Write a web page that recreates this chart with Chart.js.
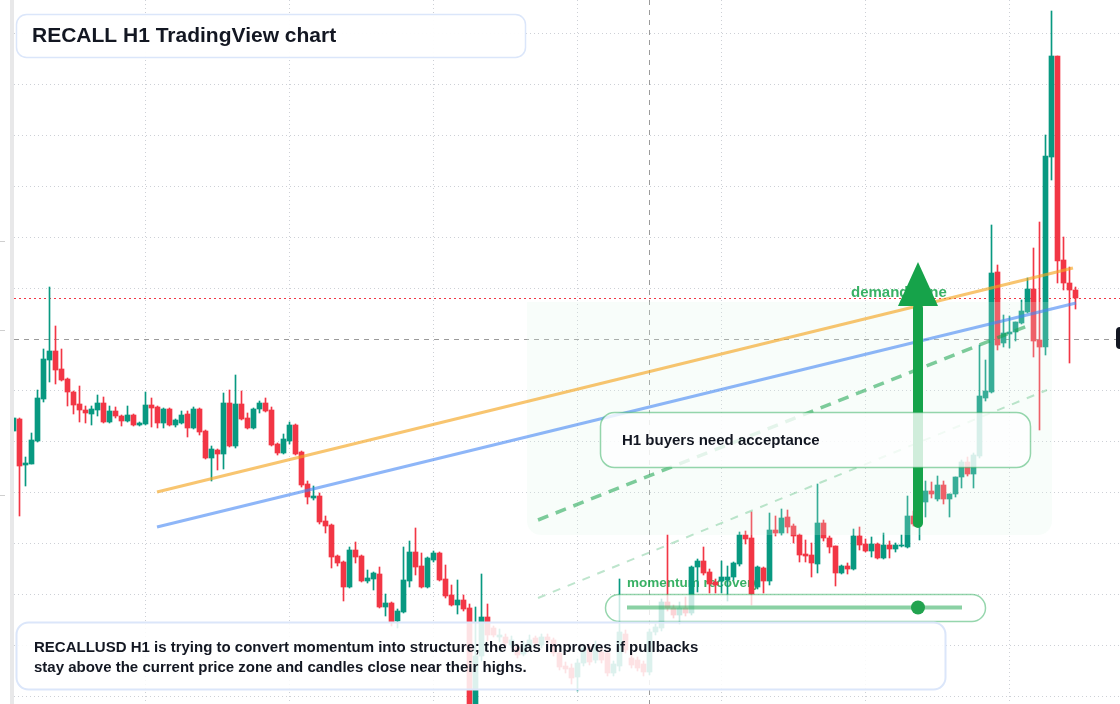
<!DOCTYPE html>
<html><head><meta charset="utf-8">
<script src="https://cdn.jsdelivr.net/npm/chart.js@4.4.1/dist/chart.umd.min.js"></script>
<style>html,body{margin:0;padding:0;background:#fff;overflow:hidden}canvas{display:block}</style>
</head><body>
<canvas id="c" width="1120" height="704"></canvas>
<script>
// ---- DATA (H1 candles, index = bar number) ----
const open = [
0.565,0.577,0.531,0.532,0.555,0.597,0.636,0.645,0.627,0.617,
0.604,0.592,0.586,0.582,0.586,0.593,0.574,0.585,0.580,0.575,
0.581,0.571,0.572,0.591,0.589,0.573,0.587,0.571,0.573,0.582,
0.568,0.587,0.565,0.538,0.546,0.542,0.593,0.550,0.592,0.578,
0.568,0.587,0.593,0.586,0.552,0.543,0.555,0.571,0.544,0.512,
0.498,0.500,0.475,0.471,0.440,0.434,0.409,0.446,0.440,0.415,
0.417,0.422,0.389,0.393,0.375,0.384,0.415,0.444,0.430,0.409,
0.436,0.443,0.417,0.401,0.391,0.396,0.388,0.272,0.340,0.379,
0.368,0.359,0.359,0.351,0.349,0.342,0.349,0.358,0.351,0.359,
0.356,0.343,0.330,0.328,0.319,0.333,0.348,0.336,0.344,0.343,
0.323,0.330,0.362,0.338,0.336,0.332,0.324,0.364,0.368,0.394,
0.388,0.381,0.388,0.383,0.429,0.435,0.424,0.414,0.415,0.416,
0.419,0.432,0.461,0.458,0.409,0.428,0.415,0.466,0.463,0.479,
0.470,0.461,0.442,0.441,0.432,0.473,0.458,0.450,0.423,0.430,
0.427,0.460,0.452,0.445,0.452,0.438,0.451,0.447,0.450,0.449,
0.480,0.473,0.494,0.505,0.497,0.511,0.497,0.502,0.519,0.534,
0.522,0.540,0.598,0.604,0.724,0.653,0.662,0.664,0.673,0.684,
0.707,0.656,0.649,0.839,0.940,0.736,0.713,0.706];
const high = [
0.578,0.578,0.539,0.563,0.606,0.647,0.709,0.670,0.647,0.618,
0.605,0.610,0.590,0.590,0.601,0.599,0.590,0.589,0.581,0.590,
0.582,0.574,0.604,0.598,0.590,0.588,0.588,0.577,0.585,0.585,
0.589,0.588,0.566,0.550,0.547,0.603,0.606,0.621,0.605,0.583,
0.588,0.595,0.598,0.589,0.553,0.562,0.574,0.572,0.545,0.515,
0.510,0.503,0.480,0.472,0.441,0.435,0.449,0.454,0.441,0.426,
0.424,0.429,0.402,0.394,0.387,0.449,0.455,0.468,0.443,0.439,
0.445,0.444,0.431,0.411,0.416,0.401,0.392,0.389,0.422,0.392,
0.370,0.367,0.362,0.360,0.352,0.355,0.361,0.360,0.362,0.362,
0.358,0.346,0.334,0.332,0.337,0.351,0.352,0.355,0.348,0.346,
0.335,0.417,0.366,0.342,0.339,0.335,0.367,0.372,0.397,0.461,
0.391,0.394,0.399,0.430,0.437,0.449,0.427,0.417,0.435,0.430,
0.434,0.464,0.465,0.484,0.430,0.429,0.483,0.480,0.487,0.486,
0.472,0.462,0.456,0.453,0.512,0.476,0.460,0.450,0.431,0.433,
0.467,0.469,0.457,0.459,0.453,0.463,0.455,0.453,0.461,0.500,
0.485,0.500,0.515,0.514,0.520,0.515,0.502,0.519,0.536,0.539,
0.543,0.651,0.636,0.771,0.731,0.681,0.680,0.674,0.696,0.718,
0.748,0.774,0.861,0.985,0.940,0.759,0.729,0.709];
const low = [
0.565,0.480,0.510,0.532,0.554,0.594,0.614,0.612,0.615,0.590,
0.582,0.574,0.573,0.571,0.580,0.573,0.573,0.578,0.570,0.574,
0.570,0.570,0.571,0.569,0.568,0.568,0.570,0.569,0.572,0.559,
0.567,0.561,0.537,0.515,0.526,0.527,0.549,0.548,0.576,0.567,
0.567,0.583,0.584,0.550,0.541,0.542,0.552,0.541,0.509,0.492,
0.496,0.472,0.463,0.428,0.430,0.395,0.408,0.433,0.414,0.413,
0.406,0.388,0.380,0.370,0.368,0.383,0.409,0.421,0.408,0.408,
0.434,0.415,0.398,0.390,0.382,0.385,0.260,0.265,0.335,0.355,
0.359,0.354,0.350,0.348,0.338,0.340,0.346,0.350,0.348,0.352,
0.340,0.326,0.323,0.312,0.305,0.330,0.331,0.333,0.333,0.320,
0.320,0.325,0.343,0.328,0.325,0.320,0.321,0.361,0.365,0.385,
0.378,0.372,0.380,0.381,0.404,0.421,0.403,0.403,0.403,0.395,
0.416,0.430,0.452,0.391,0.407,0.403,0.411,0.460,0.461,0.463,
0.453,0.434,0.434,0.419,0.423,0.455,0.443,0.410,0.422,0.422,
0.426,0.446,0.444,0.439,0.437,0.437,0.438,0.444,0.449,0.448,
0.470,0.456,0.479,0.498,0.495,0.492,0.479,0.499,0.508,0.520,
0.508,0.538,0.595,0.603,0.646,0.649,0.648,0.655,0.672,0.683,
0.639,0.566,0.641,0.816,0.713,0.706,0.633,0.687];
const close = [
0.578,0.530,0.533,0.556,0.598,0.637,0.645,0.626,0.616,0.604,
0.591,0.586,0.583,0.587,0.593,0.574,0.585,0.580,0.575,0.581,
0.571,0.573,0.591,0.588,0.573,0.587,0.571,0.576,0.581,0.568,
0.587,0.564,0.538,0.547,0.542,0.593,0.550,0.592,0.577,0.568,
0.587,0.593,0.585,0.551,0.543,0.557,0.571,0.542,0.511,0.499,
0.500,0.474,0.470,0.439,0.433,0.409,0.446,0.439,0.415,0.418,
0.423,0.389,0.393,0.374,0.385,0.416,0.444,0.429,0.409,0.438,
0.443,0.416,0.400,0.391,0.396,0.387,0.270,0.340,0.379,0.361,
0.361,0.361,0.353,0.356,0.341,0.351,0.356,0.353,0.359,0.356,
0.343,0.329,0.327,0.318,0.333,0.348,0.334,0.351,0.336,0.323,
0.332,0.364,0.346,0.331,0.328,0.324,0.364,0.369,0.394,0.388,
0.381,0.388,0.383,0.429,0.435,0.423,0.412,0.411,0.419,0.419,
0.433,0.461,0.457,0.402,0.429,0.415,0.466,0.463,0.478,0.469,
0.460,0.441,0.440,0.433,0.473,0.458,0.449,0.423,0.430,0.427,
0.460,0.451,0.445,0.452,0.438,0.451,0.447,0.451,0.451,0.480,
0.472,0.490,0.505,0.502,0.511,0.497,0.502,0.519,0.534,0.522,
0.541,0.600,0.605,0.723,0.651,0.663,0.664,0.674,0.685,0.707,
0.655,0.649,0.840,0.940,0.735,0.713,0.706,0.698];

const priceTicks = [0.300,0.351,0.402,0.453,0.504,0.555,0.606,0.657,0.708,0.759,0.810,0.861,0.912,0.963];
const timeTicks = [22,46,70,94,118,142,166];
const crosshairBar = 106;
const crosshairPrice = 0.657;

// drawings anchored in (bar, price)
const orangeTrendBars = [23.92, 176.58], orangeTrendPrices = [0.504, 0.728];
const blueTrendBars = [23.92, 177.08],   blueTrendPrices = [0.469, 0.693];
const greenTrendBars = [87.42, 169.42],  greenTrendPrices = [0.476, 0.671];
const lightTrendBars = [87.42, 172.25],  lightTrendPrices = [0.398, 0.606];
const zoneBars = [85.58, 173.08], zonePrices = [0.461, 0.694];
const arrowBar = 150.75, arrowPrices = [0.468, 0.690, 0.734];

const title = 'RECALL H1 TradingView chart';
const zoneLabel = 'demand zone';
const momentumLabel = 'momentum recovery';
const calloutText = 'H1 buyers need acceptance';
const noteLines = ['RECALLUSD H1 is trying to convert momentum into structure; the bias improves if pullbacks',
                   'stay above the current price zone and candles close near their highs.'];

const GREEN = '#089981', RED = '#f23645';
const FONT = '"Liberation Sans", Arial, sans-serif';

const bars = open.map((_, i) => i);
const isUp = bars.map(i => close[i] >= open[i]);

function seg(ctx, x1, y1, x2, y2) { ctx.beginPath(); ctx.moveTo(x1, y1); ctx.lineTo(x2, y2); ctx.stroke(); }
function rrect(ctx, x, y, w, h, r, fill, stroke, lw) {
  ctx.beginPath(); ctx.roundRect(x, y, w, h, r);
  if (fill) { ctx.fillStyle = fill; ctx.fill(); }
  if (stroke) { ctx.setLineDash([]); ctx.lineWidth = lw || 1.5; ctx.strokeStyle = stroke; ctx.stroke(); }
}

const overlay = {
  id: 'overlay',
  beforeDatasetsDraw(chart) {
    const { ctx, chartArea: a, scales: { x, y } } = chart;
    ctx.save();
    ctx.lineWidth = 1;
    ctx.strokeStyle = '#cdd0d6';
    ctx.setLineDash([1, 3]);
    priceTicks.forEach(v => { if (Math.abs(v - crosshairPrice) > 1e-6) { const py = Math.round(y.getPixelForValue(v)) + 0.5; seg(ctx, a.left, py, a.right, py); } });
    timeTicks.forEach(b => { const px = Math.floor(x.getPixelForValue(b)) + 0.5; seg(ctx, px, a.top, px, a.bottom); });
    // crosshair
    ctx.strokeStyle = '#9b9b9b';
    ctx.setLineDash([5, 5]);
    const cy = Math.round(y.getPixelForValue(crosshairPrice)) + 0.5;
    seg(ctx, a.left, cy, a.right, cy);
    const cx = Math.floor(x.getPixelForValue(crosshairBar)) + 0.5;
    seg(ctx, cx, a.top, cx, a.bottom);
    // last price line
    ctx.strokeStyle = RED;
    ctx.setLineDash([2, 3]);
    const ly = Math.round(y.getPixelForValue(close[close.length - 1])) + 0.5;
    seg(ctx, a.left, ly, a.right, ly);
    // momentum label
    ctx.setLineDash([]);
    ctx.fillStyle = 'rgba(22,163,74,0.85)';
    ctx.font = 'bold 13.5px ' + FONT;
    ctx.textBaseline = 'middle';
    ctx.fillText(momentumLabel, 627, 583);
    ctx.restore();
  },
  afterDatasetsDraw(chart) {
    const { ctx, chartArea: a, scales: { x, y } } = chart;
    const px = v => x.getPixelForValue(v), py = v => y.getPixelForValue(v);
    ctx.save();
    // demand zone tint
    const zx1 = px(zoneBars[0]), zx2 = px(zoneBars[1]), zy1 = py(zonePrices[1]), zy2 = py(zonePrices[0]);
    ctx.beginPath(); ctx.roundRect(zx1, zy1, zx2 - zx1, zy2 - zy1, [0, 0, 14, 14]);
    ctx.fillStyle = 'rgba(222,247,232,0.22)'; ctx.fill();
    // trend lines
    ctx.lineCap = 'butt';
    ctx.setLineDash([]);
    ctx.lineWidth = 3;
    ctx.strokeStyle = 'rgba(245,166,35,0.65)';
    seg(ctx, px(orangeTrendBars[0]), py(orangeTrendPrices[0]), px(orangeTrendBars[1]), py(orangeTrendPrices[1]));
    ctx.strokeStyle = 'rgba(66,133,244,0.6)';
    seg(ctx, px(blueTrendBars[0]), py(blueTrendPrices[0]), px(blueTrendBars[1]), py(blueTrendPrices[1]));
    ctx.lineWidth = 3.5;
    ctx.setLineDash([11, 8]);
    ctx.strokeStyle = 'rgba(22,163,74,0.55)';
    seg(ctx, px(greenTrendBars[0]), py(greenTrendPrices[0]), px(greenTrendBars[1]), py(greenTrendPrices[1]));
    ctx.lineWidth = 2;
    ctx.setLineDash([8, 8]);
    ctx.strokeStyle = 'rgba(22,163,74,0.28)';
    seg(ctx, px(lightTrendBars[0]), py(lightTrendPrices[0]), px(lightTrendBars[1]), py(lightTrendPrices[1]));
    ctx.setLineDash([]);
    // demand zone label
    ctx.font = 'bold 15px ' + FONT;
    ctx.textBaseline = 'middle';
    ctx.fillStyle = 'rgba(22,163,74,0.85)';
    ctx.fillText(zoneLabel, 851, 293);
    // arrow
    const ax = px(arrowBar);
    ctx.strokeStyle = '#16a34a'; ctx.fillStyle = '#16a34a';
    ctx.lineWidth = 10; ctx.lineCap = 'round';
    seg(ctx, ax, py(arrowPrices[0]) - 5, ax, py(arrowPrices[1]) + 2);
    ctx.lineCap = 'butt';
    ctx.beginPath();
    ctx.moveTo(ax - 20, py(arrowPrices[1])); ctx.lineTo(ax + 20, py(arrowPrices[1])); ctx.lineTo(ax, py(arrowPrices[2])); ctx.closePath(); ctx.fill();
    // callout box
    rrect(ctx, 600.5, 412.5, 430, 55, 14, 'rgba(255,255,255,0.8)', 'rgba(22,163,74,0.45)', 1.5);
    ctx.fillStyle = '#131722'; ctx.font = 'bold 15px ' + FONT;
    ctx.fillText(calloutText, 622, 441);
    // momentum box
    rrect(ctx, 605.5, 594.5, 380, 27, 13.5, 'rgba(255,255,255,0.78)', 'rgba(22,163,74,0.45)', 1.5);
    ctx.lineWidth = 4; ctx.strokeStyle = 'rgba(22,163,74,0.5)';
    seg(ctx, 627, 607.5, 962, 607.5);
    ctx.beginPath(); ctx.arc(918, 607.5, 7, 0, Math.PI * 2); ctx.fillStyle = '#22a34f'; ctx.fill();
    // note box
    rrect(ctx, 16.5, 622.5, 929, 67, 12, 'rgba(255,255,255,0.86)', '#dbe6fa', 2);
    ctx.fillStyle = '#131722'; ctx.font = 'bold 15px ' + FONT;
    ctx.fillText(noteLines[0], 34, 648);
    ctx.fillText(noteLines[1], 34, 668);
    // title box
    rrect(ctx, 16.5, 14.5, 509, 43, 10, 'rgba(255,255,255,0.95)', '#dbe6fa', 1.5);
    ctx.fillStyle = '#131722'; ctx.font = 'bold 21px ' + FONT;
    ctx.fillText(title, 32, 36.5);
    // left strip + ticks
    ctx.fillStyle = '#e8e8e9'; ctx.fillRect(10, 0, 4, 704);
    ctx.fillStyle = '#cfcfcf';
    [241, 330, 495].forEach(t => ctx.fillRect(0, t, 5, 1));
    // right price tag (cut off)
    rrect(ctx, 1116, 327, 40, 22, 4, '#131722', null);
    ctx.restore();
  }
};

new Chart(document.getElementById('c').getContext('2d'), {
  type: 'bar',
  data: {
    datasets: [
      { label: 'body', order: 0, grouped: false, barThickness: 5,
        data: bars.map(i => ({ x: i, y: [Math.min(open[i], close[i]), Math.max(open[i], close[i])] })),
        backgroundColor: bars.map(i => isUp[i] ? GREEN : RED) },
      { label: 'wick', order: 1, grouped: false, barThickness: 1,
        data: bars.map(i => ({ x: i, y: [low[i], high[i]] })),
        backgroundColor: bars.map(i => isUp[i] ? GREEN : RED) }
    ]
  },
  options: {
    responsive: false, animation: false, devicePixelRatio: 1,
    layout: { padding: { left: 14, right: 0, top: 0, bottom: 0 } },
    plugins: { legend: { display: false }, tooltip: { enabled: false } },
    scales: {
      x: { type: 'linear', display: false, offset: false, min: 0.08333, max: 184.41667 },
      y: { type: 'linear', display: false, min: 0.292, max: 0.996 }
    }
  },
  plugins: [overlay]
});
</script>
</body></html>
